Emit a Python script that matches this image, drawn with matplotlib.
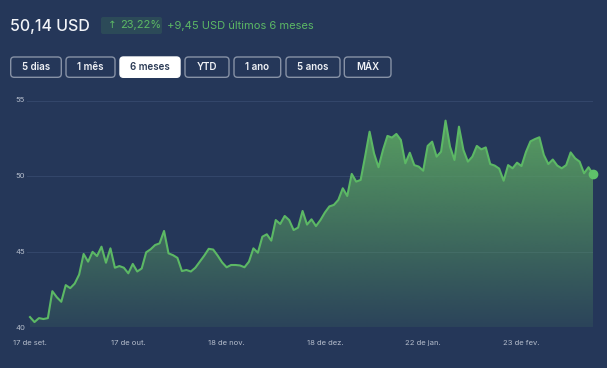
import matplotlib
matplotlib.use("Agg")
import matplotlib.pyplot as plt
import numpy as np
from matplotlib.patches import FancyBboxPatch

plt.rcParams['font.family'] = ['Inter', 'DejaVu Sans']

# daily closes, last 6 months (trading days)
prices = [
    40.69, 40.36, 40.62, 40.56, 40.62, 42.40, 42.00, 41.70, 42.80, 42.60,
    42.90, 43.50, 44.86, 44.35, 45.00, 44.72, 45.34, 44.28, 45.23, 43.95,
    44.06, 43.95, 43.58, 44.20, 43.70, 43.90, 44.97, 45.17, 45.45, 45.56,
    46.38, 44.90, 44.78, 44.60, 43.73, 43.80, 43.70, 43.95, 44.35, 44.75,
    45.20, 45.15, 44.75, 44.30, 43.98, 44.13, 44.13, 44.10, 43.98, 44.35,
    45.23, 44.94, 46.00, 46.16, 45.74, 47.10, 46.84, 47.37, 47.10, 46.44,
    46.60, 47.70, 46.80, 47.15, 46.70, 47.10, 47.60, 48.00, 48.10, 48.43,
    49.20, 48.69, 50.15, 49.64, 49.75, 51.30, 52.94, 51.50, 50.59, 51.73,
    52.66, 52.55, 52.79, 52.39, 50.85, 51.55, 50.73, 50.63, 50.36, 52.00,
    52.28, 51.29, 51.62, 53.67, 51.95, 51.07, 53.27, 51.73, 50.96, 51.29,
    52.00, 51.77, 51.90, 50.80, 50.70, 50.50, 49.70, 50.73, 50.52, 50.89,
    50.67, 51.60, 52.30, 52.45, 52.57, 51.40, 50.80, 51.10, 50.70, 50.52,
    50.73, 51.57, 51.18, 50.96, 50.19, 50.59, 50.14,
]
tick_idx = [0, 22, 44, 66, 88, 110]
tick_labels = ['17 de set.', '17 de out.', '18 de nov.', '18 de dez.', '22 de jan.', '23 de fev.']
y_ticks = [40, 45, 50, 55]
ranges = ['5 dias', '1 mês', '6 meses', 'YTD', '1 ano', '5 anos', 'MÁX']
selected = '6 meses'

last = prices[-1]
change = last - prices[0]
pct = change / prices[0] * 100

BG = '#253759'
GREEN = '#5cb865'
W, H = 607, 368

fig = plt.figure(figsize=(W / 100, H / 100), dpi=100, facecolor=BG)

# overlay in pixel coords for header and buttons
top = fig.add_axes([0, 0, 1, 1])
top.set_xlim(0, W)
top.set_ylim(H, 0)
top.axis('off')

fmt = lambda v: f'{v:.2f}'.replace('.', ',')
top.text(10, 26, f'{fmt(last)} USD', color='#f2f4f8', fontsize=11.5, va='center', ha='left',
         fontweight='medium')
top.add_patch(FancyBboxPatch((101, 17), 61, 17, boxstyle='round,pad=0,rounding_size=2',
                             fc='#2c4a58', ec='none'))
top.text(108, 25.5, '↑', color=GREEN, fontsize=7.5, va='center', ha='left', family='DejaVu Sans')
top.text(120, 25.5, f'{fmt(pct)}%', color=GREEN, fontsize=8, va='center', ha='left')
top.text(167, 25.5, f'+{fmt(change)} USD últimos 6 meses', color=GREEN, fontsize=8,
         va='center', ha='left')

btn_x = [10.7, 66, 120, 185, 234, 286, 344.3]
btn_w = [50.6, 49, 60, 44, 46.7, 54, 46.7]
for lab, bx, bw in zip(ranges, btn_x, btn_w):
    sel = lab == selected
    top.add_patch(FancyBboxPatch((bx, 57), bw, 20.3, boxstyle='round,pad=0,rounding_size=3.5',
                                 fc='#ffffff' if sel else 'none',
                                 ec='#ffffff' if sel else '#8792a6', lw=1.0))
    top.text(bx + bw / 2, 67.3, lab, color='#2a3a55' if sel else '#f0f2f6', fontsize=7,
             ha='center', va='center', fontweight='semibold')

# chart
x0, x1 = 27, 593
yb, yt = 327.5, 100.5
ax = fig.add_axes([x0 / W, 1 - yb / H, (x1 - x0) / W, (yb - yt) / H])
ax.set_facecolor('none')
x = np.arange(len(prices))
pxs = (593 - 30) / (len(prices) - 1)
for s in ax.spines.values():
    s.set_visible(False)

for yv in y_ticks[1:]:
    ax.axhline(yv, color='#33466a', lw=0.8, zorder=0)

poly = ax.fill_between(x, prices, 40, color='none', lw=0)
vmax = max(prices)
grad_y = np.linspace(40, vmax, 200)
alpha = 0.12 + 0.85 * (grad_y - 40) / (vmax - 40)
rgba = np.zeros((200, 1, 4))
rgba[:, 0, :3] = matplotlib.colors.to_rgb('#5aa262')
rgba[:, 0, 3] = alpha
img = ax.imshow(rgba, extent=[0, len(prices) - 1, 40, vmax], origin='lower',
                aspect='auto', zorder=1, interpolation='bilinear')
img.set_clip_path(poly.get_paths()[0], transform=ax.transData)
ax.set_xlim(-(30 - x0) / pxs, len(prices) - 1)
ax.set_ylim(40, 55)

ax.plot(x, prices, color=GREEN, lw=1.5, zorder=3, solid_joinstyle='round')
ax.plot(x[-1], prices[-1], 'o', color='#5fc26a', ms=6, zorder=4, clip_on=False)

ax.set_xticks(tick_idx)
ax.set_xticklabels(tick_labels)
ax.set_yticks([])
ax.tick_params(axis='x', length=0, pad=9, labelsize=5.5, labelcolor='#b4bccb')
for yv in y_ticks:
    top.text(15, yb - (yv - 40) * (yb - yt) / 15, str(yv), color='#b4bccb', fontsize=5.5,
             ha='left', va='center')

fig.savefig('out.png', dpi=100, facecolor=BG)
